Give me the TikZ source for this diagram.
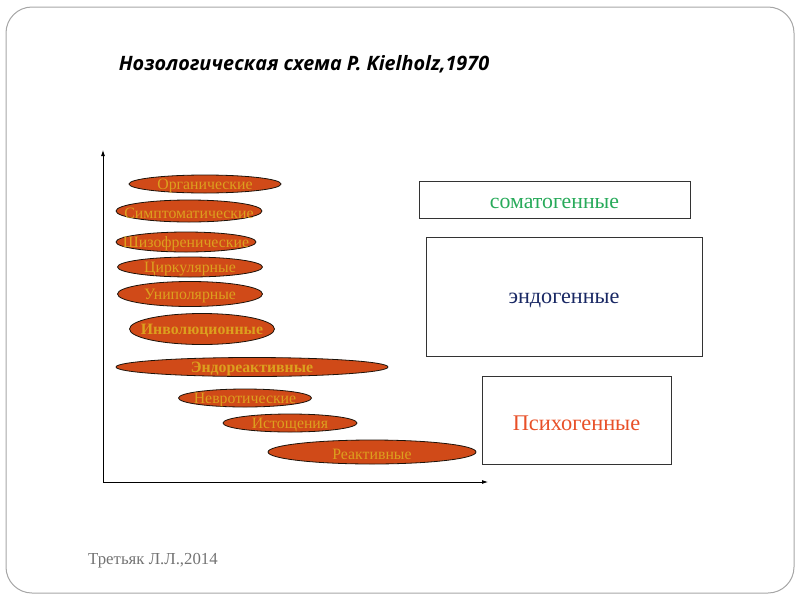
\documentclass[tikz,border=0pt]{standalone}
\usepackage{fontspec}
\setmainfont{Liberation Serif}
\setsansfont{Open Sans}
\usetikzlibrary{shapes.geometric}
\usetikzlibrary{arrows.meta}

\definecolor{ovalfill}{RGB}{208,74,24}
\definecolor{ovaltext}{RGB}{220,160,30}
\definecolor{somagreen}{RGB}{40,170,90}
\definecolor{endonavy}{RGB}{25,40,100}
\definecolor{psychored}{RGB}{232,80,40}

\tikzset{
  syndrome/.style={ellipse, draw=black!85!brown, line width=0.8pt, fill=ovalfill, inner sep=0pt},
  syntext/.style={text=ovaltext, yshift=-2pt, font=\fontsize{15.8}{16}\selectfont},
  group/.style={rectangle, draw=black!80, line width=0.8pt, inner sep=0pt},
  grouptext/.style={yshift=-4pt, font=\fontsize{22}{23}\selectfont},
  axis/.style={-{Latex[length=6pt,width=4pt]}, line width=0.8pt},
}

\begin{document}
\begin{tikzpicture}[x=1pt,y=-1pt]
        \useasboundingbox (0,0) rectangle (800,600);
        \draw[black!35, line width=1pt, rounded corners=26pt] (6,7) rectangle (794,593);
        \node (title) at (304, 64) {\sffamily\bfseries\itshape\fontsize{19.8}{22}\selectfont Нозологическая схема P. Kielholz,1970};
        % axes
        \coordinate (O) at (103, 482);
        \coordinate (ytop) at (103, 150);
        \coordinate (xend) at (488, 482);
        \draw[axis] (O) -- (ytop);
        \draw[axis] (O) -- (xend);
        % syndromes
        \node[syndrome, minimum width=152, minimum height=18, label={[syntext]center:Органические}] (org) at (205, 184) {};
        \node[syndrome, minimum width=146, minimum height=22, label={[syntext]center:Симптоматические}] (sym) at (189, 211) {};
        \node[syndrome, minimum width=140, minimum height=20, label={[syntext]center:Шизофренические}] (schiz) at (186, 242) {};
        \node[syndrome, minimum width=145, minimum height=20, label={[syntext]center:Циркулярные}] (circ) at (190, 267) {};
        \node[syndrome, minimum width=145, minimum height=25, label={[syntext]center:Униполярные}] (unip) at (190, 294) {};
        \node[syndrome, minimum width=145, minimum height=31, label={[syntext, font=\fontsize{15.8}{16}\selectfont\bfseries]center:Инволюционные}] (invol) at (202, 329) {};
        \node[syndrome, minimum width=272, minimum height=19, label={[syntext, font=\fontsize{15.8}{16}\selectfont\bfseries]center:Эндореактивные}] (endoreact) at (252, 367) {};
        \node[syndrome, minimum width=133, minimum height=18, label={[syntext]center:Невротические}] (neur) at (245, 398) {};
        \node[syndrome, minimum width=134, minimum height=18, label={[syntext]center:Истощения}] (exh) at (290, 423) {};
        \node[syndrome, minimum width=208, minimum height=24, label={[syntext]center:Реактивные}] (react) at (372, 452) {};
        % groups
        \node[group, minimum width=271, minimum height=37, label={[grouptext, text=somagreen, font=\fontsize{21.8}{22}\selectfont]center:соматогенные}] (soma) at (554.5, 199.5) {};
        \node[group, minimum width=276, minimum height=119, label={[grouptext, text=endonavy, font=\fontsize{22.2}{23}\selectfont]center:эндогенные}] (endo) at (564, 296.5) {};
        \node[group, minimum width=189, minimum height=88, label={[grouptext, yshift=1pt, text=psychored, font=\fontsize{22.4}{23}\selectfont]center:Психогенные}] (psycho) at (576.5, 420) {};
        \node[text=black!55, font=\fontsize{16.8}{17}\selectfont] (author) at (153, 561) {Третьяк Л.Л.,2014};
\end{tikzpicture}
\end{document}
